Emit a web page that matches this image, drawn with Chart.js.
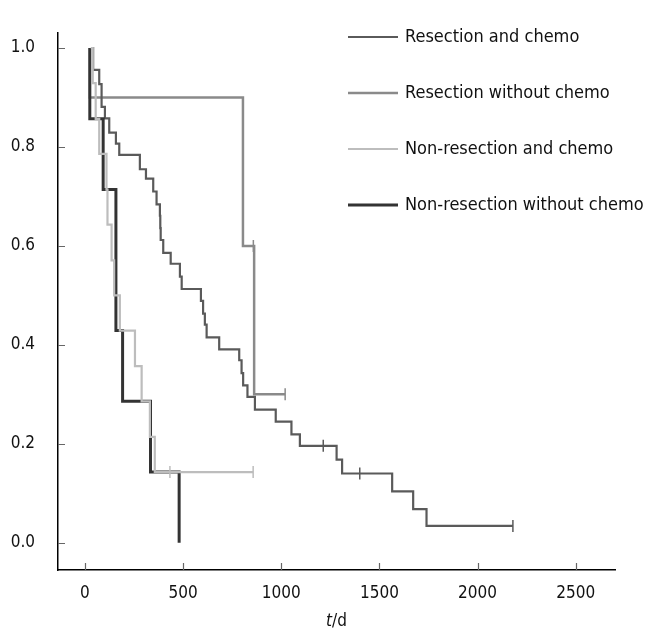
<!DOCTYPE html>
<html>
<head>
<meta charset="utf-8">
<script src="https://cdn.jsdelivr.net/npm/chart.js@4/dist/chart.umd.min.js"></script>
<style>
  html, body { margin: 0; padding: 0; background: #fff; }
  #wrap { width: 649px; height: 637px; position: relative; }
</style>
</head>
<body>
<div id="wrap"><canvas id="km"></canvas></div>
<script>
/* ——— data: time (d), cumulative survival, censored flag ——— */
const LABELS = ['Resection and chemo', 'Resection without chemo',
                'Non-resection and chemo', 'Non-resection without chemo'];

const T_RES_CHEMO = [34, 42, 73, 85, 102, 124, 158, 175, 280, 311, 348, 365, 382, 384, 386,
                     399, 437, 484, 493, 591, 602, 611, 620, 684, 786, 798, 806, 828, 866,
                     972, 1052, 1095, 1214, 1282, 1310, 1400, 1565, 1672, 1740, 2180];
const S_RES_CHEMO = [1.0, 0.956, 0.927, 0.881, 0.858, 0.829, 0.807, 0.784, 0.755, 0.736, 0.710,
                     0.684, 0.661, 0.636, 0.612, 0.586, 0.564, 0.538, 0.513, 0.489, 0.463,
                     0.441, 0.415, 0.391, 0.369, 0.343, 0.318, 0.295, 0.269, 0.245, 0.219,
                     0.196, 0.196, 0.168, 0.140, 0.140, 0.104, 0.068, 0.034, 0.034];
const C_RES_CHEMO = [0, 0, 0, 0, 0, 0, 0, 0, 0, 0, 0, 0, 0, 0, 0, 0, 0, 0, 0, 0, 0, 0, 0, 0,
                     0, 0, 0, 0, 0, 0, 0, 0, 1, 0, 0, 1, 0, 0, 0, 1];

const T_RES_NOCHEMO = [25, 25, 805, 858, 862, 1020];
const S_RES_NOCHEMO = [1.0, 0.9, 0.6, 0.6, 0.3, 0.3];
const C_RES_NOCHEMO = [0, 0, 0, 1, 0, 1];

const T_NONRES_CHEMO = [30, 40, 55, 73, 110, 115, 136, 149, 178, 255, 289, 331, 356, 433, 857];
const S_NONRES_CHEMO = [1.0, 0.929, 0.857, 0.786, 0.714, 0.643, 0.571, 0.5, 0.429, 0.357,
                        0.286, 0.214, 0.143, 0.143, 0.143];
const C_NONRES_CHEMO = [0, 0, 0, 0, 0, 0, 0, 0, 0, 0, 0, 0, 0, 1, 1];

const T_NONRES_NOCHEMO = [25, 25, 93, 158, 192, 334, 480];
const S_NONRES_NOCHEMO = [1.0, 0.857, 0.714, 0.429, 0.286, 0.143, 0.0];
const C_NONRES_NOCHEMO = [0, 0, 0, 0, 0, 0, 0];

const X_TICKS = [0, 500, 1000, 1500, 2000, 2500];
const Y_TICKS = [0, 0.2, 0.4, 0.6, 0.8, 1.0];

/* ——— look ——— */
const FONT = '"DejaVu Sans Condensed", "DejaVu Sans", sans-serif';
const series = [
    {t: T_RES_CHEMO,      s: S_RES_CHEMO,      c: C_RES_CHEMO,      colour: '#5a5a5a', width: 2.2, order: 3},
    {t: T_RES_NOCHEMO,    s: S_RES_NOCHEMO,    c: C_RES_NOCHEMO,    colour: '#8a8a8a', width: 2.5, order: 4},
    {t: T_NONRES_CHEMO,   s: S_NONRES_CHEMO,   c: C_NONRES_CHEMO,   colour: '#bdbdbd', width: 2.2, order: 1},
    {t: T_NONRES_NOCHEMO, s: S_NONRES_NOCHEMO, c: C_NONRES_NOCHEMO, colour: '#333333', width: 3,   order: 2}
];

const datasets = series.map((d, i) => ({
    label: LABELS[i],
    data: d.t.map((t, k) => ({x: t, y: d.s[k]})),
    borderColor: d.colour,
    borderWidth: d.width,
    stepped: true,
    fill: false,
    pointStyle: 'line',
    pointRotation: 90,
    pointRadius: d.c.map(f => f ? 6 : 0),
    pointBorderColor: d.colour,
    pointBorderWidth: 1.5,
    pointHitRadius: 0,
    order: d.order
}));

/* ——— plugins: inward tick marks, legend, axis title ——— */
const innerTicks = {
    id: 'innerTicks',
    afterDraw(chart) {
        const {ctx, chartArea: a, scales: {x, y}} = chart;
        ctx.save();
        ctx.strokeStyle = '#666'; ctx.lineWidth = 1.2;
        ctx.beginPath();
        x.ticks.forEach(t => {
            const px = Math.round(x.getPixelForValue(t.value)) + 0.5;
            ctx.moveTo(px, a.bottom); ctx.lineTo(px, a.bottom - 7);
        });
        y.ticks.forEach(t => {
            const py = Math.round(y.getPixelForValue(t.value)) + 0.5;
            ctx.moveTo(a.left, py); ctx.lineTo(a.left + 7, py);
        });
        ctx.stroke();
        ctx.restore();
    }
};

const kmLegend = {
    id: 'kmLegend',
    afterDraw(chart) {
        const {ctx} = chart;
        ctx.save();
        ctx.font = `18px ${FONT}`;
        ctx.textBaseline = 'middle';
        ctx.fillStyle = '#111';
        chart.data.datasets.forEach((ds, i) => {
            const yy = 37 + i * 56;
            ctx.strokeStyle = ds.borderColor; ctx.lineWidth = ds.borderWidth;
            ctx.beginPath(); ctx.moveTo(348, yy); ctx.lineTo(398, yy); ctx.stroke();
            ctx.fillText(ds.label, 405, yy);
        });
        ctx.restore();
    }
};

const axisTitle = {
    id: 'axisTitle',
    afterDraw(chart) {
        const {ctx, chartArea: a} = chart;
        const cx = (a.left + a.right) / 2, cy = 622;
        ctx.save();
        ctx.fillStyle = '#111';
        ctx.textBaseline = 'middle';
        ctx.font = `italic 17px ${FONT}`;
        const w1 = ctx.measureText('t').width;
        ctx.font = `17px ${FONT}`;
        const w2 = ctx.measureText('/d').width;
        const x0 = cx - (w1 + w2) / 2;
        ctx.font = `italic 17px ${FONT}`;
        ctx.fillText('t', x0, cy);
        ctx.font = `17px ${FONT}`;
        ctx.fillText('/d', x0 + w1, cy);
        ctx.restore();
    }
};

/* ——— chart ——— */
new Chart(document.getElementById('km'), {
    type: 'line',
    data: {datasets},
    plugins: [innerTicks, kmLegend, axisTitle],
    options: {
        responsive: true,
        maintainAspectRatio: false,
        animation: false,
        layout: {padding: {top: 12, right: 34, left: 0, bottom: 0}},
        plugins: {legend: {display: false}, tooltip: {enabled: false}},
        scales: {
            x: {
                type: 'linear', min: -137, max: 2700,
                afterBuildTicks: s => { s.ticks = X_TICKS.map(v => ({value: v})); },
                afterFit: s => { s.height = 67; },
                grid: {drawOnChartArea: false, drawTicks: false},
                border: {display: true, color: '#000', width: 1.5},
                ticks: {font: {family: FONT, size: 17}, color: '#111', padding: 13,
                        maxRotation: 0, callback: v => String(v)}
            },
            y: {
                type: 'linear', min: -0.055, max: 1.03,
                afterBuildTicks: s => { s.ticks = Y_TICKS.map(v => ({value: v})); },
                afterFit: s => { s.width = 58; },
                grid: {drawOnChartArea: false, drawTicks: false},
                border: {display: true, color: '#000', width: 1.5},
                ticks: {font: {family: FONT, size: 17}, color: '#111', padding: 23,
                        callback: v => v.toFixed(1)}
            }
        }
    }
});
</script>
</body>
</html>
